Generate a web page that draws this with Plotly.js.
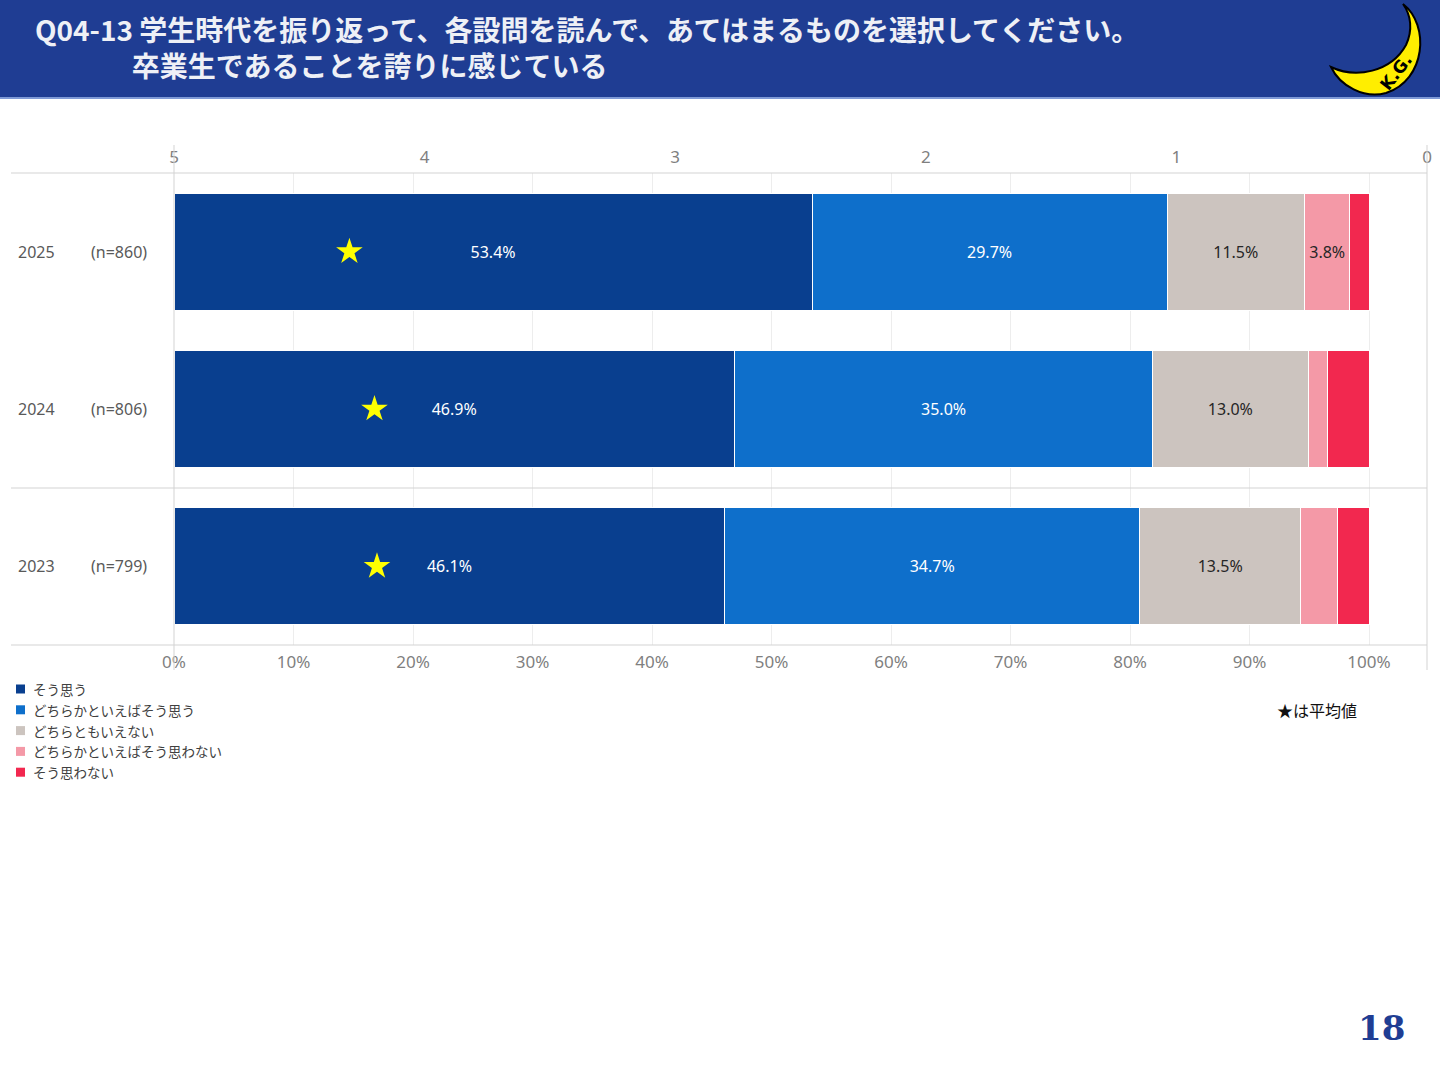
<!DOCTYPE html>
<html>
<head>
<meta charset="utf-8">
<script src="https://cdn.plot.ly/plotly-3.0.1.min.js"></script>
<style>
  html, body { margin: 0; padding: 0; background: #fff; }
  #chart { width: 1440px; height: 1080px; }
</style>
</head>
<body>
<div id="chart"></div>
<script>
// data
var years = ['2025', '2024', '2023'];
var counts = [860, 806, 799];
var seriesNames = ['そう思う', 'どちらかといえばそう思う', 'どちらともいえない', 'どちらかといえばそう思わない', 'そう思わない'];
var agree = [53.4, 46.9, 46.1];
var ratherAgree = [29.7, 35.0, 34.7];
var neutral = [11.5, 13.0, 13.5];
var ratherDisagree = [3.8, 1.6, 3.1];
var disagree = [1.6, 3.5, 2.6];
var averages = [4.30, 4.20, 4.19];
var pctTicks = [0, 10, 20, 30, 40, 50, 60, 70, 80, 90, 100];
var scoreTicks = [5, 4, 3, 2, 1, 0];

var colors = ['#093f8f', '#0e6fcb', '#ccc4bf', '#f499a7', '#f2284f'];
var labelColors = ['#ffffff', '#ffffff', '#262626', '#262626', '#262626'];
var allValues = [agree, ratherAgree, neutral, ratherDisagree, disagree];

// pixel -> paper helpers (plot area 174..1427 x 173..645)
var L = 174, R = 1427, T = 173, B = 645;
function px(x) { return (x - L) / (R - L); }
function py(y) { return (B - y) / (B - T); }

var traces = [];
allValues.forEach(function(vals, i) {
  traces.push({
    type: 'bar',
    orientation: 'h',
    name: seriesNames[i],
    y: years,
    x: vals,
    text: vals.map(function(v) { return v > 3.5 ? v.toFixed(1) + '%' : ''; }),
    textposition: 'inside',
    insidetextanchor: 'middle',
    constraintext: 'none',
    textangle: 0,
    textfont: { family: 'Noto Sans, sans-serif', size: 16, color: labelColors[i] },
    marker: { color: colors[i], line: { color: '#ffffff', width: 1 } },
    width: 0.745,
    showlegend: false,
    hoverinfo: 'skip'
  });
});

traces.push({
  type: 'scatter',
  mode: 'markers',
  x: averages,
  y: years,
  xaxis: 'x2',
  marker: { symbol: 'star', size: 20, color: '#ffff00', line: { width: 0 } },
  showlegend: false,
  hoverinfo: 'skip'
});

// moon logo outline in pixels
var moon = [[1403, 4], [1430, 25], [1426, 80], [1386, 93], [1364, 99], [1340, 86], [1331, 67],
            [1356, 79], [1391, 72], [1406, 45], [1413, 30], [1411, 15], [1403, 4]];
function moonPath() {
  var p = 'M ' + px(moon[0][0]) + ' ' + py(moon[0][1]);
  for (var i = 1; i < moon.length; i += 3) {
    p += ' C ' + px(moon[i][0]) + ' ' + py(moon[i][1]) + ', ' +
         px(moon[i + 1][0]) + ' ' + py(moon[i + 1][1]) + ', ' +
         px(moon[i + 2][0]) + ' ' + py(moon[i + 2][1]);
  }
  return p + ' Z';
}

var gridLine = { color: '#d3d3d3', width: 1 };
var shapes = [
  // header band
  { type: 'rect', xref: 'paper', yref: 'paper', x0: px(-5), x1: px(1445), y0: py(-5), y1: py(97),
    fillcolor: '#1f3d93', line: { width: 0 }, layer: 'below' },
  { type: 'line', xref: 'paper', yref: 'paper', x0: px(0), x1: px(1440), y0: py(98), y1: py(98),
    line: { color: '#7f9ad6', width: 2 } },
  { type: 'path', xref: 'paper', yref: 'paper', path: moonPath(),
    fillcolor: '#ffee00', line: { color: '#000000', width: 2 } },
  // frame lines
  { type: 'line', xref: 'paper', yref: 'paper', x0: px(11), x1: px(R), y0: py(T), y1: py(T), line: gridLine },
  { type: 'line', xref: 'paper', yref: 'paper', x0: px(11), x1: px(R), y0: py(488), y1: py(488), line: gridLine },
  { type: 'line', xref: 'paper', yref: 'paper', x0: px(11), x1: px(R), y0: py(B), y1: py(B), line: gridLine },
  { type: 'line', xref: 'paper', yref: 'paper', x0: px(L), x1: px(L), y0: py(145), y1: py(670), line: gridLine },
  { type: 'line', xref: 'paper', yref: 'paper', x0: px(R), x1: px(R), y0: py(145), y1: py(670), line: gridLine }
];

var annotations = [
  { xref: 'paper', yref: 'paper', x: px(33), y: py(47), xanchor: 'left', yanchor: 'middle', showarrow: false,
    align: 'left',
    text: '<b>Q04-13 学生時代を振り返って、各設問を読んで、あてはまるものを選択してください。<br>' +
          '\u3000\u3000\u3000\u00a0\u00a0卒業生であることを誇りに感じている</b>',
    font: { family: 'Noto Sans CJK JP', size: 28, color: '#eef0f6' } },
  { xref: 'paper', yref: 'paper', x: px(1396), y: py(72), xanchor: 'center', yanchor: 'middle', showarrow: false,
    text: '<b>K.G.</b>', textangle: -52,
    font: { family: 'DejaVu Sans', size: 17, color: '#000000' } },
  { xref: 'paper', yref: 'paper', x: px(1275), y: py(710), xanchor: 'left', yanchor: 'middle', showarrow: false,
    text: '★は平均値', font: { family: 'Noto Sans CJK JP', size: 16, color: '#111111' } },
  { xref: 'paper', yref: 'paper', x: px(1407), y: py(1028), xanchor: 'right', yanchor: 'middle', showarrow: false,
    text: '<b>18</b>', font: { family: 'DejaVu Serif', size: 34, color: '#1f3d93' } }
];

// category labels
years.forEach(function(yr, i) {
  annotations.push({ xref: 'paper', yref: 'y', x: px(16), y: i, xanchor: 'left', yanchor: 'middle',
    showarrow: false, text: yr, font: { family: 'Noto Sans', size: 16, color: '#595959' } });
  annotations.push({ xref: 'paper', yref: 'y', x: px(89), y: i, xanchor: 'left', yanchor: 'middle',
    showarrow: false, text: '(n=' + counts[i] + ')', font: { family: 'Noto Sans', size: 16, color: '#595959' } });
});

// legend drawn as squares + labels
seriesNames.forEach(function(name, i) {
  var yc = 689 + i * 20.8;
  shapes.push({ type: 'rect', xref: 'paper', yref: 'paper', x0: px(16), x1: px(25), y0: py(yc - 4.5), y1: py(yc + 4.5),
    fillcolor: colors[i], line: { width: 0 } });
  annotations.push({ xref: 'paper', yref: 'paper', x: px(31), y: py(yc), xanchor: 'left', yanchor: 'middle',
    showarrow: false, text: name, font: { family: 'Noto Sans CJK JP', size: 13.5, color: '#404040' } });
});

var layout = {
  width: 1440,
  height: 1080,
  margin: { l: L, r: 1440 - R, t: T, b: 1080 - B, pad: 0, autoexpand: false },
  paper_bgcolor: '#ffffff',
  plot_bgcolor: '#ffffff',
  barmode: 'stack',
  bargap: 0,
  showlegend: false,
  xaxis: {
    range: [0, (R - L) / 11.95],
    tickvals: pctTicks,
    ticktext: pctTicks.map(function(v) { return v + '%'; }),
    showgrid: true, gridcolor: '#ededed', gridwidth: 1,
    zeroline: false, showline: false, ticks: '',
    ticklabelstandoff: 5,
    tickfont: { family: 'Noto Sans', size: 17, color: '#7f7f7f' },
    fixedrange: true
  },
  xaxis2: {
    overlaying: 'x', side: 'top',
    range: [5, 0],
    tickvals: scoreTicks,
    showgrid: false, zeroline: false, showline: false, ticks: '',
    ticklabelstandoff: 6,
    tickfont: { family: 'Noto Sans', size: 17, color: '#7f7f7f' },
    fixedrange: true
  },
  yaxis: {
    type: 'category',
    categoryorder: 'array', categoryarray: years,
    range: [2.5, -0.5],
    showticklabels: false, showgrid: false, zeroline: false, showline: false, ticks: '',
    fixedrange: true
  },
  shapes: shapes,
  annotations: annotations,
  font: { family: 'Noto Sans CJK JP' }
};

Plotly.newPlot('chart', traces, layout, { displayModeBar: false, staticPlot: true });
</script>
</body>
</html>
